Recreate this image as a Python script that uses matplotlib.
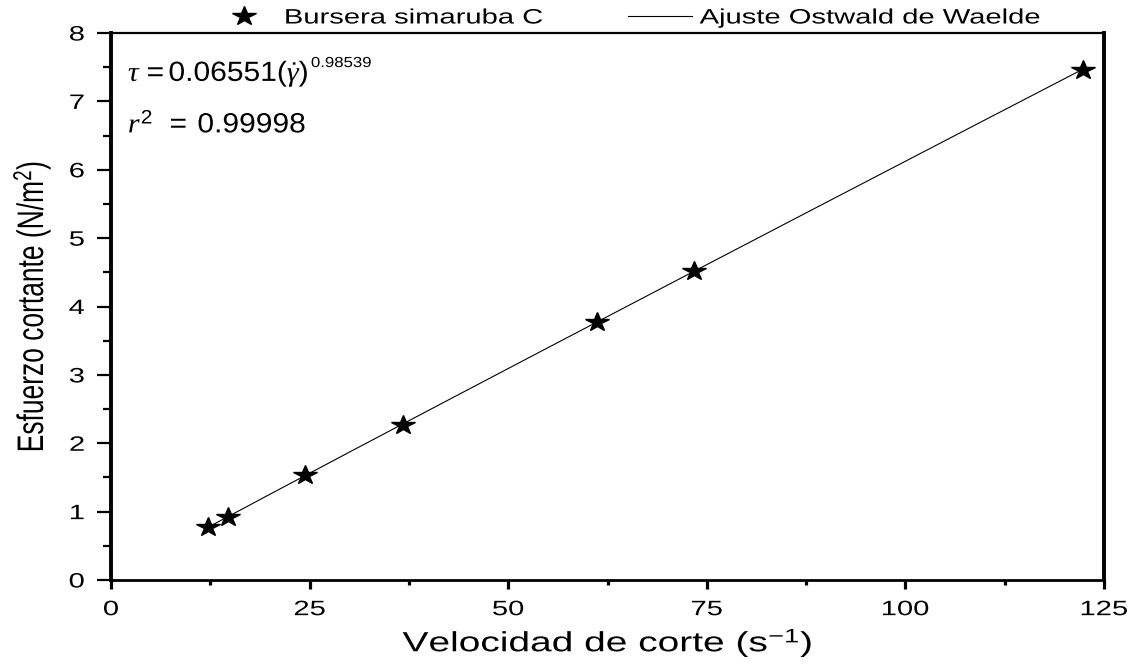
import numpy as np
import matplotlib.pyplot as plt
from matplotlib.markers import MarkerStyle
from matplotlib.patheffects import AbstractPathEffect
from matplotlib.ticker import MultipleLocator
from matplotlib.transforms import Affine2D

plt.rcParams['font.family'] = ['Liberation Sans', 'DejaVu Sans']
plt.rcParams['mathtext.fontset'] = 'custom'
plt.rcParams['mathtext.rm'] = 'Liberation Sans'
plt.rcParams['mathtext.it'] = 'Liberation Serif:italic'
plt.rcParams['mathtext.bf'] = 'Liberation Sans:bold'

# shear rate (1/s) and measured shear stress (N/m^2)
shear_rate = [12.24, 14.69, 24.48, 36.72, 61.20, 73.44, 122.40]
shear_stress = [0.78, 0.92, 1.54, 2.27, 3.77, 4.52, 7.46]

# Ostwald-de Waele fit: tau = K * gamma^n
K = 0.06551
n = 0.98539
r2 = 0.99998


class Stretch(AbstractPathEffect):
    """Draw text glyphs widened horizontally by a factor sx."""

    def __init__(self, sx, anchor='center'):
        super().__init__()
        self.sx = sx
        self.anchor = anchor

    def draw_path(self, renderer, gc, tpath, affine, rgbFace=None):
        box = tpath.get_extents(affine)
        if self.anchor == 'left':
            px = affine.get_matrix()[0, 2]
        elif self.anchor == 'right':
            px = box.x1
        else:
            px = 0.5 * (box.x0 + box.x1)
        affine = affine + Affine2D().translate(-px, 0).scale(self.sx, 1).translate(px, 0)
        renderer.draw_path(gc, tpath, affine, rgbFace)


SX = 1.4

fig = plt.figure(figsize=(11.4, 6.67), dpi=100)
ax = fig.add_axes([0.0974, 0.1304, 0.871, 0.8201])

gam = np.linspace(min(shear_rate), max(shear_rate), 200)
ax.plot(gam, K * gam**n, color='black', lw=0.8, label='Ajuste Ostwald de Waelde')
star = MarkerStyle('*', transform=Affine2D().scale(1.25, 1))
ax.plot(shear_rate, shear_stress, ls='none', marker=star, ms=14, color='black',
        label='Bursera simaruba C')

ax.set_xlim(0, 125)
ax.set_ylim(0, 8)
ax.xaxis.set_major_locator(MultipleLocator(25))
ax.xaxis.set_minor_locator(MultipleLocator(12.5))
ax.yaxis.set_major_locator(MultipleLocator(1))
ax.yaxis.set_minor_locator(MultipleLocator(0.5))
ax.tick_params(which='both', direction='out', labelsize=15)
ax.tick_params(axis='x', which='major', length=6.5, width=2.3, pad=8)
ax.tick_params(axis='x', which='minor', length=3.6, width=2.3)
ax.tick_params(axis='y', which='major', length=10, width=1.6, pad=9)
ax.tick_params(axis='y', which='minor', length=5.8, width=1.6)
ax.spines['top'].set_linewidth(1.6)
ax.spines['bottom'].set_linewidth(2.0)
ax.spines['left'].set_linewidth(2.8)
ax.spines['right'].set_linewidth(2.8)

for lab in ax.get_xticklabels():
    lab.set_path_effects([Stretch(SX, 'center')])
for lab in ax.get_yticklabels():
    lab.set_path_effects([Stretch(SX, 'right')])

xl = ax.set_xlabel(r'Velocidad de corte (s$^{-1}$)', fontsize=20)
ax.xaxis.set_label_coords(0.5, -0.086)
xl.set_path_effects([Stretch(SX, 'center')])
yl = ax.set_ylabel(r'Esfuerzo cortante (N/m$^{2}$)', fontsize=19)
ax.yaxis.set_label_coords(-0.064, 0.5)
yl.set_path_effects([Stretch(SX, 'center')])

# fitted model and goodness of fit
eq1 = ax.text(0.017, 0.925, r'$\tau\,=0.06551(\dot{\gamma})$',
              transform=ax.transAxes, fontsize=20, va='center', ha='left')
expo = ax.annotate('%.5f' % n, xy=(1.08, 1), xycoords=eq1,
                   xytext=(2, -8), textcoords='offset pixels',
                   fontsize=10.5, va='baseline', ha='left')
expo.set_path_effects([Stretch(1.15, 'left')])
eq2 = ax.text(0.017, 0.831, r'$r^2\;\;=\;0.99998$',
              transform=ax.transAxes, fontsize=20, va='center', ha='left')
for t in (eq1, eq2):
    t.set_path_effects([Stretch(1.08, 'left')])

h, l = ax.get_legend_handles_labels()
leg = fig.legend(h[::-1], l[::-1], ncol=2, loc='center left',
                 bbox_to_anchor=(212 / 1140, 1 - 18 / 667), frameon=False,
                 fontsize=15, handlelength=3.1, handletextpad=0.35,
                 columnspacing=7.6, borderpad=0, borderaxespad=0)
for t in leg.get_texts():
    t.set_path_effects([Stretch(SX, 'left')])

fig.savefig('out.png', dpi=100)
